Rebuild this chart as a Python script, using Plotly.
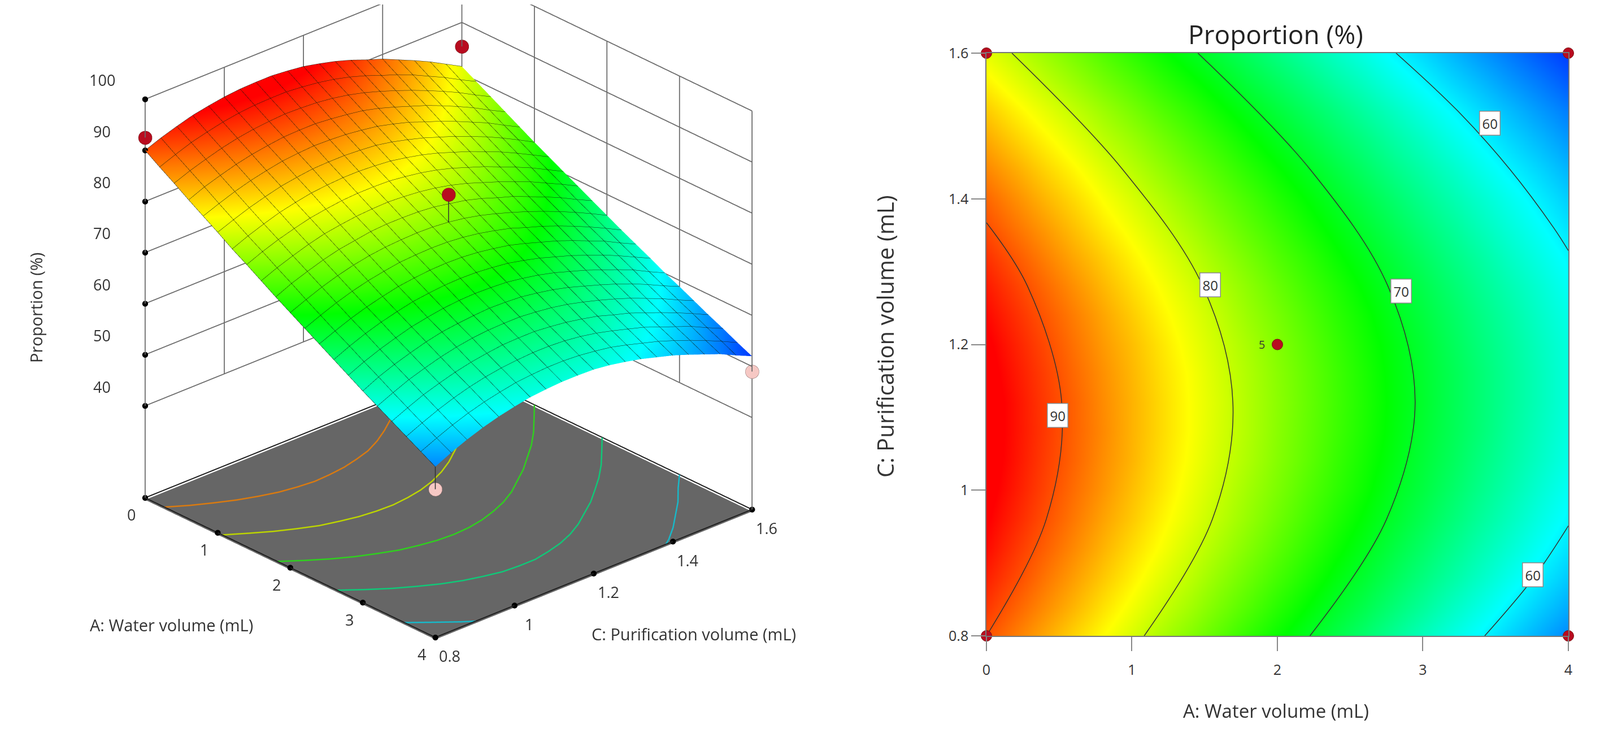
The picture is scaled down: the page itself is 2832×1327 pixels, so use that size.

import numpy as np
import plotly.graph_objects as go

water = [0,0.2,0.4,0.6,0.8,1,1.2,1.4,1.6,1.8,2,2.2,2.4,2.6,2.8,3,3.2,3.4,3.6,3.8,4]
purif = [0.8,0.84,0.88,0.92,0.96,1,1.04,1.08,1.12,1.16,1.2,1.24,1.28,1.32,1.36,1.4,1.44,1.48,1.52,1.56,1.6]
prop = [
[90.0,88.1,86.3,84.4,82.6,80.8,78.9,77.2,75.4,73.6,71.9,70.2,68.5,66.8,65.1,63.4,61.8,60.2,58.6,57.0,55.4],
[91.2,89.3,87.5,85.7,83.8,82.0,80.2,78.5,76.7,75.0,73.2,71.5,69.8,68.2,66.5,64.9,63.2,61.6,60.0,58.4,56.9],
[92.2,90.4,88.5,86.7,84.9,83.1,81.3,79.6,77.8,76.1,74.4,72.7,71.0,69.4,67.7,66.1,64.5,62.9,61.3,59.7,58.2],
[93.1,91.2,89.4,87.6,85.8,84.0,82.3,80.5,78.8,77.1,75.4,73.7,72.0,70.4,68.7,67.1,65.5,63.9,62.4,60.8,59.3],
[93.7,91.9,90.1,88.3,86.5,84.8,83.0,81.3,79.6,77.9,76.2,74.5,72.8,71.2,69.6,68.0,66.4,64.8,63.3,61.7,60.2],
[94.2,92.4,90.6,88.8,87.1,85.3,83.6,81.8,80.1,78.4,76.8,75.1,73.5,71.9,70.2,68.7,67.1,65.5,64.0,62.4,60.9],
[94.5,92.7,90.9,89.2,87.4,85.7,83.9,82.2,80.5,78.9,77.2,75.6,73.9,72.3,70.7,69.1,67.6,66.0,64.5,63.0,61.5],
[94.6,92.8,91.1,89.3,87.6,85.8,84.1,82.4,80.7,79.1,77.4,75.8,74.2,72.6,71.0,69.4,67.9,66.4,64.8,63.3,61.8],
[94.6,92.8,91.0,89.3,87.5,85.8,84.1,82.4,80.8,79.1,77.5,75.9,74.3,72.7,71.1,69.6,68.0,66.5,65.0,63.5,62.0],
[94.3,92.5,90.8,89.0,87.3,85.6,83.9,82.3,80.6,79.0,77.4,75.8,74.2,72.6,71.0,69.5,68.0,66.5,65.0,63.5,62.0],
[93.9,92.1,90.4,88.6,86.9,85.3,83.6,81.9,80.3,78.7,77.1,75.5,73.9,72.3,70.8,69.3,67.7,66.2,64.8,63.3,61.9],
[93.2,91.5,89.8,88.1,86.4,84.7,83.0,81.4,79.8,78.1,76.6,75.0,73.4,71.9,70.3,68.8,67.3,65.8,64.4,62.9,61.5],
[92.4,90.7,89.0,87.3,85.6,83.9,82.3,80.7,79.1,77.5,75.9,74.3,72.8,71.2,69.7,68.2,66.7,65.2,63.8,62.4,60.9],
[91.4,89.7,88.0,86.3,84.7,83.0,81.4,79.8,78.2,76.6,75.0,73.5,71.9,70.4,68.9,67.4,65.9,64.5,63.0,61.6,60.2],
[90.2,88.5,86.9,85.2,83.5,81.9,80.3,78.7,77.1,75.5,74.0,72.4,70.9,69.4,67.9,66.4,65.0,63.5,62.1,60.7,59.3],
[89.1,87.4,85.7,84.1,82.4,80.8,79.2,77.6,76.0,74.5,72.9,71.4,69.9,68.4,66.9,65.4,64.0,62.6,61.2,59.8,58.4],
[87.7,86.1,84.4,82.8,81.1,79.5,77.9,76.3,74.8,73.2,71.7,70.2,68.7,67.2,65.7,64.3,62.9,61.4,60.0,58.7,57.3],
[86.3,84.6,83.0,81.4,79.7,78.2,76.6,75.0,73.5,71.9,70.4,68.9,67.4,66.0,64.5,63.1,61.6,60.2,58.8,57.5,56.1],
[84.8,83.1,81.5,79.9,78.3,76.7,75.1,73.6,72.0,70.5,69.0,67.5,66.1,64.6,63.2,61.7,60.3,58.9,57.6,56.2,54.9],
[83.1,81.4,79.8,78.2,76.6,75.1,73.5,72.0,70.5,68.9,67.5,66.0,64.5,63.1,61.6,60.2,58.8,57.5,56.1,54.8,53.4],
[81.4,79.8,78.2,76.6,75.0,73.4,71.9,70.4,68.9,67.4,65.9,64.4,63.0,61.6,60.1,58.8,57.4,56.0,54.7,53.3,52.0],
]
a_ticks=[0,1,2,3,4]; c_ticks=[0.8,1,1.2,1.4,1.6]; z_ticks=[40,50,60,70,80,90,100]
floor=22; ztop=100
levels=[87.5,80.2,73.4,66.4,58.8]
level_colors=["#d97a10","#bcd400","#2fd01e","#10c878","#18b8c8"]
contour_levels=[60,70,80,90]
red_A=[0,0,2]; red_C=[0.8,1.6,1.2]; red_Z=[92.5,85.3,82.5]
pink_A=[4,4]; pink_C=[0.8,1.6]; pink_Z=[51,49]
scale=[[0,"#0000ff"],[.25,"#00ffff"],[.5,"#00ff00"],[.75,"#ffff00"],[1,"#ff0000"]]
FONT="Open Sans"
CMIN,CMAX=49.5,93.5
fig=go.Figure()
Z=np.array(prop)

def level_curve(lv,step):
    """Level curve of the table: crossing along each kept row, plus where it meets the side edges."""
    pts=[]
    for j,cv in enumerate(purif):
        r=Z[j]
        if j%step==0 and r.min()<=lv<=r.max():
            pts.append((cv,float(np.interp(-lv,-r,water))))
    for j in range(len(purif)-1):
        for k in (0,len(water)-1):
            u,v=Z[j,k],Z[j+1,k]
            if (u-lv)*(v-lv)<0:
                pts.append((purif[j]+(lv-u)/(v-u)*(purif[j+1]-purif[j]),float(water[k])))
    pts.sort()
    xs,ys=[],[]
    for i,(cv,av) in enumerate(pts):
        if i and cv-pts[i-1][0]>0.2:
            xs.append(None);ys.append(None)
        xs.append(av);ys.append(cv)
    return xs,ys

fig.add_surface(x=water,y=purif,z=prop,colorscale=scale,cmin=CMIN,cmax=CMAX,showscale=False,
    lighting=dict(ambient=1,diffuse=0,specular=0,roughness=1,fresnel=0),
    contours=dict(x=dict(show=True,start=0,end=4,size=.2,color="#0c180c",width=6),
                  y=dict(show=True,start=.8,end=1.6,size=.04,color="#0c180c",width=6)),hoverinfo="skip")
def lines(x,y,z,color,width):
    fig.add_scatter3d(x=x,y=y,z=z,mode="lines",line=dict(color=color,width=width),showlegend=False,hoverinfo="skip")
gx,gy,gz=[],[],[]
for t in z_ticks:
    gx+=[0,0,4,None];gy+=[.8,1.6,1.6,None];gz+=[t,t,t,None]
for t in c_ticks[1:-1]:
    gx+=[0,0,None];gy+=[t,t,None];gz+=[40,100,None]
for t in a_ticks[1:-1]:
    gx+=[t,t,None];gy+=[1.6,1.6,None];gz+=[40,100,None]
for p,q in [(0,.8),(0,1.6),(4,1.6)]:
    gx+=[p,p,None];gy+=[q,q,None];gz+=[floor,ztop,None]
lines(gx,gy,gz,"#6a6a6a",3.5)
lines([0,4,4,0,0],[.8,.8,1.6,1.6,.8],[floor]*5,"#202020",4)
for lv,col in zip(levels,level_colors):
    xs,ys=level_curve(lv,1)
    lines(xs,ys,[floor if v is not None else None for v in xs],col,5)
sx,sy,sz=[],[],[]
for A,C,V in list(zip(red_A,red_C,red_Z))+list(zip(pink_A,pink_C,pink_Z)):
    sx+=[A,A,None];sy+=[C,C,None]
    sz+=[V,float(Z[purif.index(C)][water.index(A)]),None]
lines(sx,sy,sz,"#303030",3)
fig.add_scatter3d(x=red_A,y=red_C,z=red_Z,mode="markers",marker=dict(size=14,color="#b80c20",line=dict(color="#601010",width=1)),showlegend=False,hoverinfo="skip")
fig.add_scatter3d(x=pink_A,y=pink_C,z=pink_Z,mode="markers",marker=dict(size=14,color="#f6c8c4",line=dict(color="#806060",width=1)),showlegend=False,hoverinfo="skip")
tx=[0]*len(z_ticks)+a_ticks+[4]*len(c_ticks)
ty=[.8]*len(z_ticks)+[.8]*len(a_ticks)+c_ticks
tz=z_ticks+[floor]*10
fig.add_scatter3d(x=tx,y=ty,z=tz,mode="markers",marker=dict(size=6,color="black"),showlegend=False,hoverinfo="skip")
ann=[]
tf=dict(family=FONT,size=27,color="#333")
for t in z_ticks:
    ann.append(dict(x=0,y=.8,z=t,text=str(t),showarrow=False,xshift=-76,yshift=34,font=tf))
for t in a_ticks:
    ann.append(dict(x=t,y=.8,z=floor,text=str(t),showarrow=False,xshift=-24,yshift=-30,font=tf))
for t in c_ticks:
    ann.append(dict(x=4,y=t,z=floor,text=str(t),showarrow=False,xshift=26,yshift=-33,font=tf))
ax_off=dict(showgrid=False,zeroline=False,showline=False,showticklabels=False,ticks="",title="",showspikes=False,showbackground=False)
s=1.146
fig.update_layout(
 width=2832,height=1327,margin=dict(l=0,r=0,t=0,b=0),paper_bgcolor="white",plot_bgcolor="white",showlegend=False,
 scene=dict(domain=dict(x=[0,.555],y=[0,1]),
   xaxis=dict(range=[0,4],**ax_off),yaxis=dict(range=[.8,1.6],**ax_off),
   zaxis=dict(range=[floor-.4,ztop+.5],**{**ax_off,"showbackground":True},backgroundcolor="#666666"),
   aspectmode="manual",aspectratio=dict(x=s,y=s,z=1.045*s),
   camera=dict(projection=dict(type="orthographic"),up=dict(x=0,y=0,z=1),center=dict(x=0,y=0,z=-.224),
      eye=dict(x=1.457,y=-1.335,z=.746)),
   annotations=ann))
fig.add_heatmap(x=water,y=purif,z=prop,colorscale=scale,zmin=CMIN,zmax=CMAX,zsmooth="best",showscale=False,hoverinfo="skip",xaxis="x",yaxis="y")
for lv in contour_levels:
    xs,ys=level_curve(lv,2 if lv==60 else 4)
    fig.add_scatter(x=xs,y=ys,mode="lines",line=dict(color="#333",width=1.5,shape="spline",smoothing=1),showlegend=False,hoverinfo="skip",xaxis="x",yaxis="y")
fig.add_scatter(x=[0,4,0,4,2],y=[.8,.8,1.6,1.6,1.2],mode="markers",marker=dict(size=19,color="#b80c20",line=dict(color="#7a1010",width=1)),cliponaxis=False,showlegend=False,hoverinfo="skip",xaxis="x",yaxis="y")
pf=dict(family=FONT,size=24,color="#333")
common=dict(ticks="outside",ticklen=25,tickcolor="#888",tickwidth=2,showgrid=False,zeroline=False,showline=True,linecolor="#777",linewidth=1.5,mirror=True,automargin=False,tickfont=dict(family=FONT,size=25,color="#333"))
fig.update_xaxes(domain=[.6137,.9774],range=[0,4],tickvals=a_ticks,ticklabelstandoff=12,**common)
fig.update_yaxes(domain=[.1582,.9352],range=[.8,1.6],tickvals=c_ticks,ticktext=["0.8","1","1.2","1.4","1.6"],**common)
boxes=[(.49,1.103,"90"),(1.536,1.282,"80"),(2.85,1.273,"70"),(3.46,1.5035,"60"),(3.755,.8836,"60")]
annots=[dict(x=a_,y=c_,xref="x",yref="y",text=t,showarrow=False,bgcolor="white",bordercolor="#888",borderwidth=1.5,borderpad=4,font=pf) for a_,c_,t in boxes]
annots.append(dict(x=2,y=1.2,xref="x",yref="y",text="5",showarrow=False,xshift=-27,font=dict(family=FONT,size=20,color="#333")))
px=lambda X,Y,txt,size,rot=0,col="#333": dict(x=(X-8)/2832,y=1-(Y-8)/1327,xref="paper",yref="paper",xanchor="center",yanchor="middle",text=txt,showarrow=False,textangle=rot,font=dict(family=FONT,size=size,color=col))
annots+= [px(303,1105,"A: Water volume (mL)",29),px(1228,1121,"C: Purification volume (mL)",29),px(63,545,"Proportion (%)",29,-90),
          px(2258,60,"Proportion (%)",46,0,"#222"),px(2258,1257,"A: Water volume (mL)",33),px(1566,596,"C: Purification volume (mL)",40,-90)]
fig.update_layout(annotations=annots)
fig.write_html("out.html")
